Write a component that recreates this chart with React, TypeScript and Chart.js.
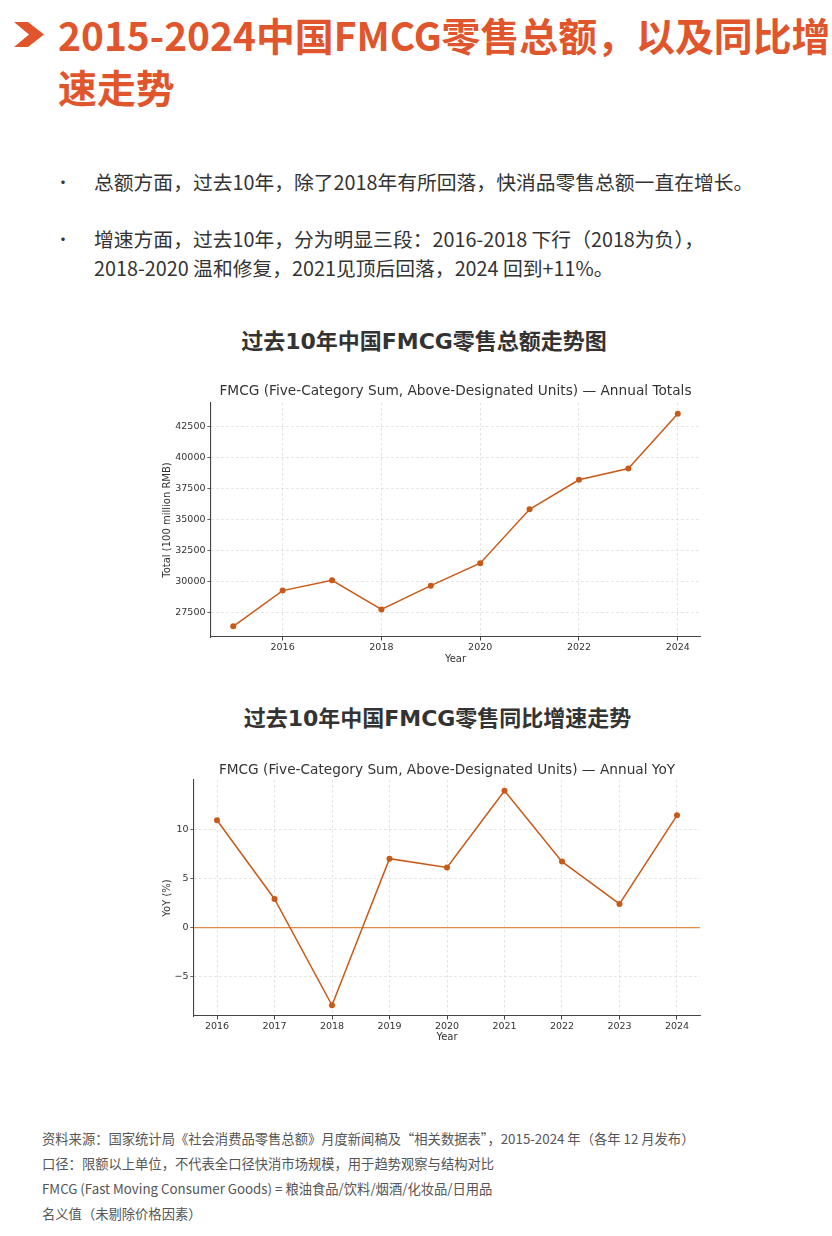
import React, { useEffect, useRef } from "react";
import { Chart, registerables } from "chart.js";

Chart.register(...registerables);

// ---------- data ----------
const totalYears = [2015, 2016, 2017, 2018, 2019, 2020, 2021, 2022, 2023, 2024];
const totalValues = [26350, 29235, 30065, 27715, 29635, 31450, 35800, 38180, 39085, 43515];
const totalYTicks = [27500, 30000, 32500, 35000, 37500, 40000, 42500];
const totalXTicks = [2016, 2018, 2020, 2022, 2024];

const yoyYears = [2016, 2017, 2018, 2019, 2020, 2021, 2022, 2023, 2024];
const yoyValues = [10.9, 2.9, -7.9, 7.0, 6.1, 13.9, 6.7, 2.4, 11.4];
const yoyYTicks = [-5, 0, 5, 10];
const yoyXTicks = [2016, 2017, 2018, 2019, 2020, 2021, 2022, 2023, 2024];

const LINE_COLOR = "#c85a19";
const ZERO_COLOR = "#e28a48";
const TEXT_COLOR = "#333333";
const GRID_COLOR = "#dadada";
const FONT = "'DejaVu Sans', sans-serif";

function padRange(vals: number[]) {
  const mn = Math.min(...vals);
  const mx = Math.max(...vals);
  const m = (mx - mn) * 0.05;
  return { min: mn - m, max: mx + m };
}

const zeroLinePlugin = {
  id: "zeroLine",
  beforeDatasetsDraw(chart: any, _args: any, opts: any) {
    if (!opts || !opts.enabled) return;
    const y = chart.scales.y.getPixelForValue(0);
    const { left, right } = chart.chartArea;
    const ctx = chart.ctx;
    ctx.save();
    ctx.strokeStyle = ZERO_COLOR;
    ctx.lineWidth = 1.3;
    ctx.beginPath();
    ctx.moveTo(left, y);
    ctx.lineTo(right, y);
    ctx.stroke();
    ctx.restore();
  },
};

interface ChartSpec {
  xs: number[];
  ys: number[];
  xTicks: number[];
  yTicks: number[];
  title: string;
  yTitle: string;
  yAxisWidth: number;
  xAxisHeight: number;
  titlePadTop: number;
  titlePadBottom: number;
  xTitlePadBottom: number;
  zero: boolean;
  width: number;
  height: number;
}

function fmt(v: number) {
  return v < 0 ? "\u2212" + Math.abs(v) : String(v);
}

function LineChart({ spec }: { spec: ChartSpec }) {
  const ref = useRef<HTMLCanvasElement | null>(null);
  useEffect(() => {
    if (!ref.current) return;
    const xr = padRange(spec.xs);
    const yr = padRange(spec.ys);
    const tickFont = { family: FONT, size: 9.5 };
    const chart = new Chart(ref.current, {
      type: "line",
      data: {
        datasets: [
          {
            data: spec.xs.map((x, i) => ({ x, y: spec.ys[i] })),
            borderColor: LINE_COLOR,
            backgroundColor: LINE_COLOR,
            borderWidth: 1.5,
            pointRadius: 3,
            pointBorderWidth: 0,
            pointBackgroundColor: LINE_COLOR,
            tension: 0,
            clip: false as any,
          },
        ],
      },
      plugins: [zeroLinePlugin],
      options: {
        animation: false,
        responsive: false,
        layout: { padding: { left: 0, right: 10, top: 0, bottom: 0 } },
        plugins: {
          legend: { display: false },
          tooltip: { enabled: false },
          title: {
            display: true,
            text: spec.title,
            fullSize: false,
            color: TEXT_COLOR,
            font: { family: FONT, size: 13.7, weight: "normal" as any, lineHeight: 1.2 },
            padding: { top: spec.titlePadTop, bottom: spec.titlePadBottom },
          },
          zeroLine: { enabled: spec.zero },
        } as any,
        scales: {
          x: {
            type: "linear",
            min: xr.min,
            max: xr.max,
            afterBuildTicks: (scale: any) => {
              scale.ticks = spec.xTicks.map((v) => ({ value: v }));
            },
            afterFit: (scale: any) => {
              scale.height = spec.xAxisHeight;
            },
            ticks: {
              color: TEXT_COLOR,
              font: tickFont,
              padding: 1,
              maxRotation: 0,
              autoSkip: false,
              callback: (v: any) => fmt(Number(v)),
            },
            grid: {
              color: GRID_COLOR,
              lineWidth: 0.8,
              drawTicks: true,
              tickLength: 3.5,
              tickColor: TEXT_COLOR,
              tickWidth: 1,
              tickBorderDash: [1, 0],
            } as any,
            border: { display: true, color: "#444", width: 1.1, dash: [2.5, 2.5] },
            title: {
              display: true,
              text: "Year",
              color: TEXT_COLOR,
              font: { family: FONT, size: 10, lineHeight: 1.2 },
              padding: { top: 0, bottom: spec.xTitlePadBottom },
            },
          },
          y: {
            type: "linear",
            min: yr.min,
            max: yr.max,
            afterBuildTicks: (scale: any) => {
              scale.ticks = spec.yTicks.map((v) => ({ value: v }));
            },
            afterFit: (scale: any) => {
              scale.width = spec.yAxisWidth;
            },
            ticks: {
              color: TEXT_COLOR,
              font: tickFont,
              padding: 2,
              autoSkip: false,
              callback: (v: any) => fmt(Number(v)),
            },
            grid: {
              color: GRID_COLOR,
              lineWidth: 0.8,
              drawTicks: true,
              tickLength: 3.5,
              tickColor: TEXT_COLOR,
              tickWidth: 1,
              tickBorderDash: [1, 0],
            } as any,
            border: { display: true, color: "#444", width: 1.1, dash: [2.5, 2.5] },
            title: {
              display: true,
              text: spec.yTitle,
              color: TEXT_COLOR,
              font: { family: FONT, size: 10, lineHeight: 1.2 },
              padding: { top: 11, bottom: 0 },
            },
          },
        },
      },
    });
    return () => chart.destroy();
  }, [spec]);
  return (
    <canvas
      ref={ref}
      width={spec.width}
      height={spec.height}
      style={{ width: spec.width, height: spec.height, display: "block" }}
    />
  );
}

const totalSpec: ChartSpec = {
  xs: totalYears,
  ys: totalValues,
  xTicks: totalXTicks,
  yTicks: totalYTicks,
  title: "FMCG (Five-Category Sum, Above-Designated Units) \u2014 Annual Totals",
  yTitle: "Total (100 million RMB)",
  yAxisWidth: 61,
  xAxisHeight: 38,
  titlePadTop: 8,
  titlePadBottom: 3.6,
  xTitlePadBottom: 10,
  zero: false,
  width: 560,
  height: 300,
};

const yoySpec: ChartSpec = {
  xs: yoyYears,
  ys: yoyValues,
  xTicks: yoyXTicks,
  yTicks: yoyYTicks,
  title: "FMCG (Five-Category Sum, Above-Designated Units) \u2014 Annual YoY",
  yTitle: "YoY (%)",
  yAxisWidth: 44,
  xAxisHeight: 39,
  titlePadTop: 7,
  titlePadBottom: 1.6,
  xTitlePadBottom: 12,
  zero: true,
  width: 560,
  height: 300,
};

const ORANGE = "#e0552b";
const CJK = "'Noto Sans CJK SC', 'Noto Sans', sans-serif";

export default function App() {
  return (
    <div
      style={{
        position: "absolute",
        left: 0,
        top: 0,
        width: 832,
        height: 1236,
        overflow: "hidden",
        background: "#ffffff",
        fontFamily: CJK,
      }}
    >
      <svg
        width={50}
        height={60}
        style={{ position: "absolute", left: 0, top: 0 }}
      >
        <polygon points="14,22 28,22 44,34.5 28,47 14,47 29,34.5" fill={ORANGE} />
      </svg>
      <div
        style={{
          position: "absolute",
          left: 58,
          top: 8,
          fontSize: 38.9,
          lineHeight: "52px",
          fontWeight: 700,
          color: ORANGE,
          whiteSpace: "nowrap",
        }}
      >
        2015-2024中国FMCG零售总额，以及同比增
        <br />
        速走势
      </div>

      <div style={{ position: "absolute", left: 55, top: 166.5, fontSize: 16, lineHeight: "29px", color: "#333" }}>•</div>
      <div
        style={{
          position: "absolute",
          left: 94,
          top: 166.5,
          fontSize: 19.8,
          lineHeight: "29px",
          color: "#333",
          whiteSpace: "nowrap",
        }}
      >
        总额方面，过去10年，除了2018年有所回落，快消品零售总额一直在增长。
      </div>
      <div style={{ position: "absolute", left: 55, top: 223.5, fontSize: 16, lineHeight: "29px", color: "#333" }}>•</div>
      <div
        style={{
          position: "absolute",
          left: 94,
          top: 223.5,
          fontSize: 19.8,
          lineHeight: "29px",
          color: "#333",
          whiteSpace: "nowrap",
        }}
      >
        增速方面，过去10年，分为明显三段：2016-2018 下行（2018为负），
        <br />
        2018-2020 温和修复，2021见顶后回落，2024 回到+11%。
      </div>

      <div
        style={{
          position: "absolute",
          left: 424,
          top: 327,
          transform: "translateX(-50%)",
          fontFamily: "'DejaVu Sans', 'Noto Sans CJK SC', sans-serif",
          fontWeight: 700,
          fontSize: 22,
          lineHeight: "30px",
          color: "#333",
          whiteSpace: "nowrap",
        }}
      >
        过去10年中国FMCG零售总额走势图
      </div>
      <div style={{ position: "absolute", left: 150, top: 375 }}>
        <LineChart spec={totalSpec} />
      </div>

      <div
        style={{
          position: "absolute",
          left: 437.5,
          top: 704,
          transform: "translateX(-50%)",
          fontFamily: "'DejaVu Sans', 'Noto Sans CJK SC', sans-serif",
          fontWeight: 700,
          fontSize: 22,
          lineHeight: "30px",
          color: "#333",
          whiteSpace: "nowrap",
        }}
      >
        过去10年中国FMCG零售同比增速走势
      </div>
      <div style={{ position: "absolute", left: 150, top: 755 }}>
        <LineChart spec={yoySpec} />
      </div>

      <div
        style={{
          position: "absolute",
          left: 42,
          top: 1125.5,
          fontSize: 13.3,
          lineHeight: "25.3px",
          color: "#555",
          whiteSpace: "nowrap",
        }}
      >
        <div>资料来源：国家统计局《社会消费品零售总额》月度新闻稿及“相关数据表”，2015-2024 年（各年 12 月发布）</div>
        <div>口径：限额以上单位，不代表全口径快消市场规模，用于趋势观察与结构对比</div>
        <div>FMCG (Fast Moving Consumer Goods) = 粮油食品/饮料/烟酒/化妆品/日用品</div>
        <div>名义值（未剔除价格因素）</div>
      </div>
    </div>
  );
}
